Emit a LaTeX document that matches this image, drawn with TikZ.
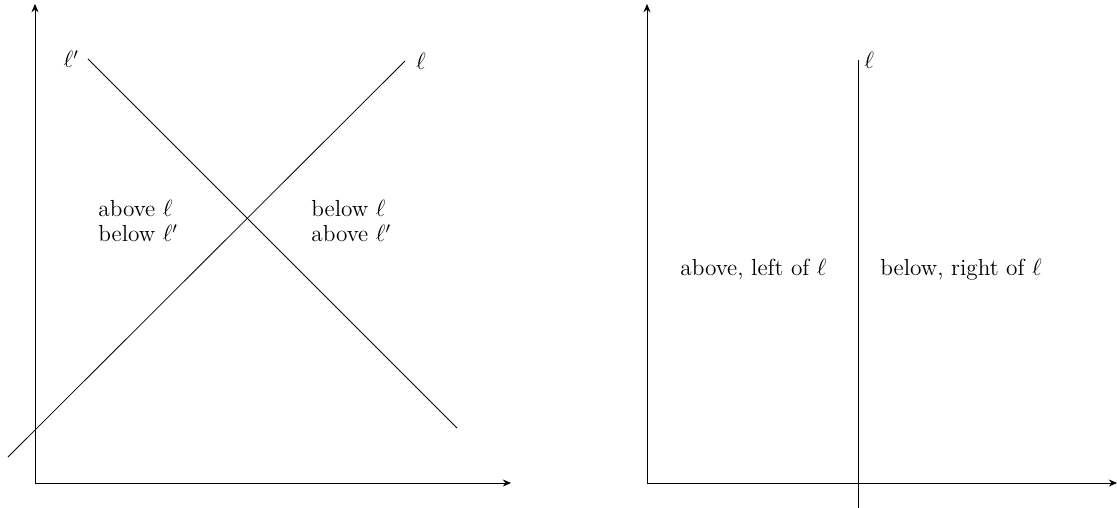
\documentclass[tikz,border=0pt]{standalone}
\usetikzlibrary{arrows.meta}
\begin{document}
\begin{tikzpicture}[x=0.512pt,y=-0.512pt,
  axis/.style={-{Stealth[length=4.2pt,width=3.6pt]}},
  every node/.style={font=\fontsize{11.9}{12.8}\selectfont},
  lbl/.style={inner sep=0pt}]
\useasboundingbox (0,0) rectangle (1117,508);
% left panel
\coordinate (O1) at (35,483);
\coordinate (Y1) at (35,4);
\coordinate (X1) at (511,483);
\draw[axis] (O1) -- (Y1);
\draw[axis] (O1) -- (X1);
\coordinate (l1) at (8,457);
\coordinate (l2) at (405,61);
\coordinate (m1) at (88,59);
\coordinate (m2) at (457,428);
\draw (l1) -- (l2) node[lbl,anchor=west,xshift=5.5pt] (ll) {$\ell$};
\draw (m2) -- (m1) node[lbl,anchor=east,xshift=-4.5pt] (lm) {$\ell'$};
\node[lbl,anchor=west,align=left] (t1) at (98,221) {above $\ell$\\below $\ell'$};
\node[lbl,anchor=west,align=left] (t2) at (311,221) {below $\ell$\\above $\ell'$};
% right panel
\coordinate (O2) at (647,483);
\coordinate (Y2) at (647,4);
\coordinate (X2) at (1117,483);
\draw[axis] (O2) -- (Y2);
\draw[axis] (O2) -- (X2);
\coordinate (v1) at (858,508);
\coordinate (v2) at (858,60);
\draw (v1) -- (v2) node[lbl,anchor=west,xshift=3pt] (lv) {$\ell$};
\node[lbl,anchor=west] (t3) at (680,270) {above, left of $\ell$};
\node[lbl,anchor=west] (t4) at (880,270) {below, right of $\ell$};
\end{tikzpicture}
\end{document}
